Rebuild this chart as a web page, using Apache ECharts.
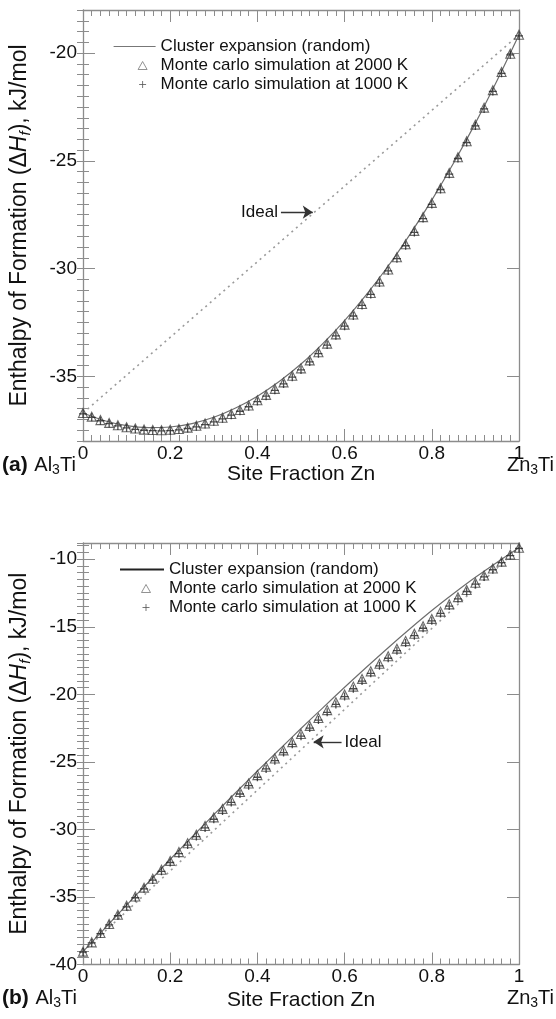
<!DOCTYPE html>
<html>
<head>
<meta charset="utf-8">
<script src="https://cdn.jsdelivr.net/npm/echarts@6/dist/echarts.min.js"></script>
<style>
  html, body { margin: 0; padding: 0; background: #fff; }
  #chart { width: 556px; height: 1019px; }
</style>
</head>
<body>
<div id="chart"></div>
<script>
// site fraction of Zn for the Monte Carlo points (step 0.02)
var siteFrac = [0, 0.02, 0.04, 0.06, 0.08, 0.1, 0.12, 0.14, 0.16, 0.18,
  0.2, 0.22, 0.24, 0.26, 0.28, 0.3, 0.32, 0.34, 0.36, 0.38,
  0.4, 0.42, 0.44, 0.46, 0.48, 0.5, 0.52, 0.54, 0.56, 0.58,
  0.6, 0.62, 0.64, 0.66, 0.68, 0.7, 0.72, 0.74, 0.76, 0.78,
  0.8, 0.82, 0.84, 0.86, 0.88, 0.9, 0.92, 0.94, 0.96, 0.98, 1];
// site fraction for the cluster expansion curve (step 0.05)
var ceFrac = [0, 0.05, 0.1, 0.15, 0.2, 0.25, 0.3, 0.35, 0.4, 0.45, 0.5,
  0.55, 0.6, 0.65, 0.7, 0.75, 0.8, 0.85, 0.9, 0.95, 1];
var idealFrac = [0, 1];

// panel (a)
var ceA = [-36.70, -37.06, -37.29, -37.38, -37.35, -37.19, -36.90, -36.47, -35.92, -35.24, -34.43,
  -33.48, -32.41, -31.21, -29.88, -28.41, -26.82, -25.10, -23.25, -21.26, -19.15];
var mc2000A = [-36.70, -36.87, -37.03, -37.16, -37.27, -37.36, -37.42, -37.47, -37.49, -37.50,
  -37.48, -37.44, -37.38, -37.29, -37.19, -37.06, -36.92, -36.75, -36.56, -36.35,
  -36.11, -35.86, -35.58, -35.28, -34.97, -34.63, -34.26, -33.88, -33.48, -33.05,
  -32.60, -32.13, -31.64, -31.13, -30.60, -30.04, -29.47, -28.87, -28.25, -27.61,
  -26.95, -26.27, -25.56, -24.83, -24.09, -23.32, -22.53, -21.72, -20.88, -20.03, -19.15];
var mc1000A = [-36.74, -36.90, -37.06, -37.19, -37.30, -37.39, -37.46, -37.50, -37.52, -37.53,
  -37.52, -37.48, -37.42, -37.34, -37.24, -37.11, -36.97, -36.80, -36.62, -36.41,
  -36.17, -35.92, -35.65, -35.35, -35.04, -34.70, -34.33, -33.95, -33.55, -33.12,
  -32.67, -32.20, -31.71, -31.20, -30.67, -30.11, -29.54, -28.94, -28.32, -27.68,
  -27.02, -26.33, -25.62, -24.89, -24.15, -23.38, -22.59, -21.78, -20.94, -20.08, -19.20];
var idealA = [-36.70, -19.15];

// panel (b)
var ceB = [-39.05, -37.32, -35.60, -33.91, -32.21, -30.56, -28.91, -27.29, -25.68, -24.10, -22.53,
  -21.00, -19.48, -18.00, -16.55, -15.15, -13.80, -12.54, -11.34, -10.22, -9.15];
var mc2000B = [-39.05, -38.36, -37.67, -37.00, -36.32, -35.65, -34.97, -34.31, -33.65, -32.99,
  -32.33, -31.68, -31.03, -30.40, -29.75, -29.11, -28.48, -27.85, -27.23, -26.60,
  -25.98, -25.36, -24.75, -24.15, -23.54, -22.94, -22.34, -21.75, -21.17, -20.59,
  -20.01, -19.43, -18.86, -18.30, -17.74, -17.18, -16.62, -16.06, -15.52, -14.97,
  -14.42, -13.88, -13.34, -12.81, -12.28, -11.74, -11.21, -10.69, -10.18, -9.66, -9.15];
var mc1000B = [-39.08, -38.40, -37.72, -37.06, -36.39, -35.73, -35.06, -34.40, -33.75, -33.10,
  -32.45, -31.80, -31.16, -30.53, -29.89, -29.25, -28.63, -28.00, -27.38, -26.76,
  -26.14, -25.52, -24.91, -24.31, -23.70, -23.10, -22.50, -21.91, -21.33, -20.75,
  -20.17, -19.59, -19.02, -18.45, -17.89, -17.33, -16.77, -16.21, -15.66, -15.11,
  -14.56, -14.01, -13.47, -12.93, -12.39, -11.85, -11.31, -10.78, -10.26, -9.73, -9.20];
var idealB = [-39.05, -9.15];

var yTicksA = [-35, -30, -25, -20];
var yTicksB = [-40, -35, -30, -25, -20, -15, -10];
// arrows pointing at the ideal line: [x start, x end, y]
var arrowA = [0.454, 0.527, -27.38];
var arrowB = [0.593, 0.529, -23.52];

var NAMES = ['Cluster expansion (random)', 'Monte carlo simulation at 2000 K', 'Monte carlo simulation at 1000 K'];
var FONT = '"Liberation Sans", Arial, sans-serif';
var AX = '#8c8c8c';
var INK = '#111';

function zip(xs, ys) {
  return xs.map(function (x, i) { return [x, ys[i]]; });
}

function xPair(grid, nameGap) {
  var base = {
    type: 'value', gridIndex: grid, min: 0, max: 1, interval: 0.2,
    axisLine: { show: true, onZero: false, lineStyle: { color: AX, width: 1.3 } },
    axisTick: { show: true, inside: true, length: 12, lineStyle: { color: AX, width: 1 } },
    minorTick: { show: true, splitNumber: 10, length: 6, lineStyle: { color: AX, width: 1 } },
    splitLine: { show: false }
  };
  var bottom = Object.assign({}, base, {
    position: 'bottom',
    name: 'Site Fraction Zn', nameLocation: 'middle', nameGap: nameGap,
    nameTextStyle: { fontSize: 21, color: INK, fontFamily: FONT },
    axisLabel: { show: true, fontSize: 19, color: INK, margin: 3, fontFamily: FONT }
  });
  var top = Object.assign({}, base, { position: 'top', axisLabel: { show: false } });
  return [bottom, top];
}

function yQuad(grid, min, max, ticks, nameGap) {
  var major = {
    type: 'value', gridIndex: grid, min: min, max: max,
    axisLine: { show: true, onZero: false, lineStyle: { color: AX, width: 1.3 } },
    axisTick: { show: true, inside: true, length: 12, customValues: ticks, lineStyle: { color: AX } },
    splitLine: { show: false }
  };
  var minor = {
    type: 'value', gridIndex: grid, min: min, max: max, interval: 0.5,
    axisLine: { show: false },
    axisTick: { show: true, inside: true, length: 6, lineStyle: { color: AX } },
    axisLabel: { show: false },
    splitLine: { show: false }
  };
  var left = Object.assign({}, major, {
    position: 'left',
    name: 'Enthalpy of Formation (\u0394{i|H}{s|f}), kJ/mol',
    nameLocation: 'middle', nameGap: nameGap,
    nameTextStyle: {
      fontSize: 23, color: INK, fontFamily: FONT,
      rich: {
        i: { fontSize: 23, fontStyle: 'italic', color: INK, fontFamily: FONT },
        s: { fontSize: 15, fontStyle: 'italic', color: INK, fontFamily: FONT, padding: [12, 0, 0, 0] }
      }
    },
    axisLabel: { show: true, customValues: ticks, fontSize: 19, color: INK, margin: 6, fontFamily: FONT }
  });
  var right = Object.assign({}, major, { position: 'right', axisLabel: { show: false } });
  return [left, right,
    Object.assign({}, minor, { position: 'left' }),
    Object.assign({}, minor, { position: 'right' })];
}

function panelSeries(xi, yi, ce, mc2000, mc1000, ideal, arrow) {
  return [
    {
      type: 'line', xAxisIndex: xi, yAxisIndex: yi, data: zip(idealFrac, ideal),
      symbol: 'none', silent: true, z: 1,
      lineStyle: { color: '#9a9a9a', width: 1.6, type: [2, 4] },
      markLine: {
        silent: true, animation: false,
        symbol: ['none', 'arrow'], symbolSize: 10,
        lineStyle: { color: '#333', width: 1.4, type: 'solid' },
        label: { show: true, position: 'start', formatter: 'Ideal', fontSize: 17, color: INK, fontFamily: FONT, distance: 3 },
        data: [[{ coord: [arrow[0], arrow[2]] }, { coord: [arrow[1], arrow[2]] }]]
      }
    },
    {
      name: NAMES[0], type: 'line', xAxisIndex: xi, yAxisIndex: yi, data: zip(ceFrac, ce),
      symbol: 'none', smooth: 0.3, z: 2,
      lineStyle: { color: '#6e6e6e', width: 1.2 }
    },
    {
      name: NAMES[1], type: 'scatter', xAxisIndex: xi, yAxisIndex: yi, data: zip(siteFrac, mc2000),
      symbol: 'triangle', symbolSize: 9, z: 3,
      itemStyle: { color: 'rgba(255,255,255,0)', borderColor: '#444', borderWidth: 1.1 }
    },
    {
      name: NAMES[2], type: 'scatter', xAxisIndex: xi, yAxisIndex: yi, data: zip(siteFrac, mc1000),
      symbol: 'path://M0,5H10M5,0V10', symbolSize: 8, z: 4,
      itemStyle: { color: '#222', borderColor: '#222', borderWidth: 1.3 }
    }
  ];
}

// legend icons: a 9 px symbol placed at cx inside a w x 9 box
function triIcon(w, cx) {
  return 'path://M0,0M' + w + ',9M' + cx + ',0.5L' + (cx + 4.5) + ',8.5L' + (cx - 4.5) + ',8.5Z';
}
function plusIcon(w, cx) {
  return 'path://M0,0M' + w + ',9M' + (cx - 3.5) + ',4.5H' + (cx + 3.5) + 'M' + cx + ',1V8';
}

function legendAt(left, top, w, cx, lineColor, lineWidth) {
  return {
    orient: 'vertical', left: left, top: top,
    itemWidth: w, itemHeight: 9, itemGap: 2,
    selectedMode: false,
    textStyle: { fontSize: 17, color: INK, fontFamily: FONT, lineHeight: 17 },
    data: [
      { name: NAMES[0], lineStyle: { color: lineColor, width: lineWidth },
        itemStyle: { color: 'rgba(0,0,0,0)', borderWidth: 0, opacity: 0 } },
      { name: NAMES[1], icon: triIcon(w, cx), itemStyle: { color: 'rgba(0,0,0,0)', borderColor: '#777', borderWidth: 1 } },
      { name: NAMES[2], icon: plusIcon(w, cx), itemStyle: { color: 'rgba(0,0,0,0)', borderColor: '#555', borderWidth: 1 } }
    ]
  };
}

function formula(prefix, el, left, right, top) {
  var t = {
    type: 'text', top: top, silent: true,
    style: {
      rich: {
        b: { fontSize: 21, fontWeight: 'bold', fill: INK, fontFamily: FONT },
        r: { fontSize: 20, fill: INK, fontFamily: FONT },
        s: { fontSize: 14, fill: INK, fontFamily: FONT, padding: [10, 0, 0, 0] }
      },
      text: (prefix ? '{b|' + prefix + '}  ' : '') + '{r|' + el + '}{s|3}{r|Ti}'
    }
  };
  if (left != null) t.left = left; else t.right = right;
  return t;
}

var chart = echarts.init(document.getElementById('chart'), null, { renderer: 'canvas' });

var option = {
  backgroundColor: '#fff',
  animation: false,
  textStyle: { fontFamily: FONT },
  grid: [
    { left: 83, top: 10, width: 436, height: 431, containLabel: false, outerBoundsMode: 'none' },
    { left: 83, top: 543, width: 436, height: 421.5, containLabel: false, outerBoundsMode: 'none' }
  ],
  legend: [legendAt(108, 33, 42, 29, '#777', 1.2), legendAt(114, 556, 44, 26, '#222', 2)],
  xAxis: xPair(0, 18).concat(xPair(1, 25)),
  yAxis: yQuad(0, -38, -18, yTicksA, 50).concat(yQuad(1, -40, -8.8, yTicksB, 50)),
  series: panelSeries(0, 0, ceA, mc2000A, mc1000A, idealA, arrowA)
    .concat(panelSeries(2, 4, ceB, mc2000B, mc1000B, idealB, arrowB)),
  graphic: [
    formula('(a)', 'Al', 2, null, 455),
    formula(null, 'Zn', null, 2, 455),
    formula('(b)', 'Al', 2, null, 988),
    formula(null, 'Zn', null, 2, 988)
  ]
};

chart.setOption(option);
</script>
</body>
</html>
